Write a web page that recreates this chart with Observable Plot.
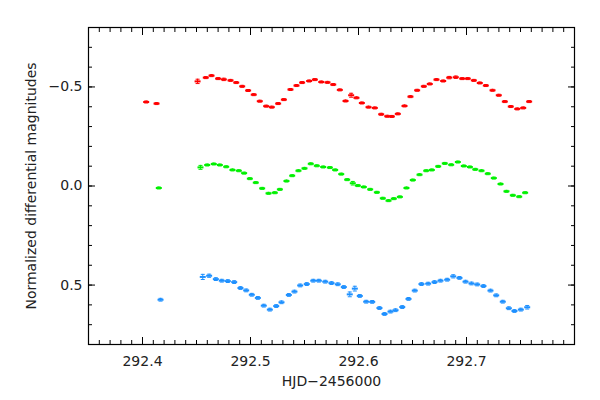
<!DOCTYPE html>
<html>
<head>
<meta charset="utf-8">
<script src="https://cdn.jsdelivr.net/npm/d3@7"></script>
<script src="https://cdn.jsdelivr.net/npm/@observablehq/plot@0.6"></script>
<style>
  html, body { margin: 0; padding: 0; background: #fff; }
</style>
</head>
<body>
<div id="chart"></div>
<script>
// ---- Data (HJD-2456000, normalized differential magnitude, error) ----
const redT = [292.4034,292.4130,292.4510,292.4586,292.4639,292.4700,292.4753,292.4815,292.4868,292.4923,292.4978,292.5030,292.5086,292.5145,292.5197,292.5256,292.5309,292.5370,292.5426,292.5478,292.5543,292.5596,292.5655,292.5713,292.5766,292.5827,292.5880,292.5932,292.5981,292.6031,292.6093,292.6151,292.6210,292.6266,292.6309,292.6364,292.6426,292.6481,292.6543,292.6605,292.6660,292.6722,292.6784,292.6840,292.6901,292.6960,292.7012,292.7068,292.7123,292.7179,292.7241,292.7299,292.7355,292.7410,292.7470,292.7525,292.7580];
const redM = [-0.424,-0.416,-0.528,-0.547,-0.557,-0.542,-0.538,-0.533,-0.522,-0.503,-0.482,-0.461,-0.428,-0.403,-0.398,-0.416,-0.436,-0.487,-0.507,-0.522,-0.530,-0.537,-0.525,-0.523,-0.512,-0.485,-0.429,-0.458,-0.445,-0.419,-0.398,-0.394,-0.362,-0.352,-0.351,-0.364,-0.404,-0.451,-0.483,-0.503,-0.515,-0.537,-0.530,-0.547,-0.549,-0.542,-0.542,-0.533,-0.520,-0.507,-0.483,-0.458,-0.426,-0.401,-0.389,-0.394,-0.426];
const redE = [0.005,0.005,0.011,0.005,0.005,0.005,0.006,0.005,0.005,0.005,0.005,0.005,0.005,0.005,0.005,0.005,0.005,0.005,0.005,0.005,0.005,0.005,0.005,0.005,0.005,0.005,0.005,0.010,0.005,0.005,0.005,0.005,0.005,0.005,0.005,0.005,0.005,0.005,0.005,0.005,0.005,0.005,0.005,0.006,0.006,0.005,0.005,0.005,0.005,0.005,0.005,0.005,0.005,0.005,0.005,0.005,0.005];

const greenT = [292.4151,292.4537,292.4599,292.4660,292.4716,292.4775,292.4833,292.4892,292.4941,292.4994,292.5049,292.5108,292.5167,292.5225,292.5272,292.5333,292.5386,292.5444,292.5500,292.5558,292.5614,292.5673,292.5735,292.5784,292.5840,292.5895,292.5947,292.5994,292.6049,292.6108,292.6170,292.6225,292.6278,292.6327,292.6383,292.6444,292.6503,292.6565,292.6627,292.6679,292.6738,292.6799,292.6858,292.6920,292.6975,292.7031,292.7081,292.7139,292.7197,292.7253,292.7315,292.7370,292.7429,292.7488,292.7543];
const greenM = [0.010,-0.094,-0.106,-0.111,-0.106,-0.097,-0.081,-0.077,-0.065,-0.037,-0.017,0.012,0.037,0.034,0.017,-0.025,-0.052,-0.077,-0.089,-0.112,-0.102,-0.096,-0.093,-0.081,-0.060,-0.032,-0.014,-0.002,0.005,0.017,0.032,0.062,0.074,0.064,0.055,0.010,-0.030,-0.057,-0.077,-0.081,-0.099,-0.114,-0.107,-0.121,-0.101,-0.096,-0.084,-0.077,-0.062,-0.040,-0.010,0.027,0.047,0.054,0.034];
const greenE = [0.005,0.010,0.005,0.005,0.005,0.005,0.005,0.005,0.005,0.005,0.005,0.005,0.005,0.005,0.005,0.005,0.005,0.005,0.005,0.005,0.005,0.005,0.005,0.005,0.005,0.005,0.009,0.005,0.005,0.005,0.005,0.005,0.005,0.005,0.005,0.005,0.005,0.005,0.005,0.005,0.005,0.005,0.005,0.005,0.005,0.005,0.005,0.005,0.005,0.005,0.005,0.005,0.005,0.005,0.005];

const blueT = [292.4167,292.4558,292.4617,292.4679,292.4734,292.4790,292.4849,292.4907,292.4960,292.5012,292.5068,292.5123,292.5179,292.5238,292.5287,292.5355,292.5407,292.5460,292.5521,292.5581,292.5633,292.5692,292.5750,292.5808,292.5864,292.5919,292.5966,292.6012,292.6071,292.6127,292.6194,292.6241,292.6296,292.6343,292.6405,292.6463,292.6521,292.6583,292.6645,292.6704,292.6759,292.6821,292.6877,292.6935,292.6991,292.7046,292.7099,292.7157,292.7222,292.7275,292.7336,292.7392,292.7444,292.7503,292.7562];
const blueM = [0.574,0.459,0.453,0.470,0.478,0.480,0.485,0.515,0.527,0.549,0.565,0.604,0.624,0.606,0.587,0.550,0.533,0.502,0.495,0.478,0.478,0.483,0.490,0.496,0.510,0.547,0.518,0.555,0.584,0.585,0.616,0.646,0.634,0.627,0.611,0.570,0.528,0.495,0.493,0.485,0.478,0.473,0.456,0.464,0.483,0.492,0.497,0.505,0.528,0.552,0.584,0.617,0.631,0.624,0.612];
const blueE = [0.007,0.013,0.008,0.007,0.007,0.007,0.007,0.007,0.007,0.007,0.007,0.007,0.007,0.007,0.007,0.007,0.007,0.007,0.007,0.007,0.007,0.007,0.007,0.007,0.007,0.012,0.012,0.007,0.007,0.007,0.007,0.007,0.007,0.007,0.007,0.007,0.007,0.007,0.007,0.007,0.007,0.007,0.008,0.007,0.007,0.007,0.007,0.007,0.007,0.007,0.007,0.007,0.007,0.007,0.009];

const seriesNames = ["red", "green", "blue"];
const seriesColors = ["#ff0000", "#00f000", "#1e90ff"];

const xMajor = [292.4, 292.5, 292.6, 292.7];
const yMajor = [-0.5, 0.0, 0.5];
const xLabel = "HJD\u22122456000";
const yLabel = "Normalized differential magnitudes";

// ---- Build table ----
const table = [];
[[redT, redM, redE], [greenT, greenM, greenE], [blueT, blueM, blueE]].forEach(([T, M, E], i) => {
  T.forEach((t, j) => table.push({series: seriesNames[i], t, m: M[j], e: E[j], color: seriesColors[i]}));
});

const xMinor = d3.range(29235, 29281).map(v => v / 100);
const yMinor = d3.range(-8, 9).map(v => v / 10);

const barSymbol = { draw(ctx) { ctx.rect(-3, -1, 6, 2); } };
const capSymbol = { draw(ctx) { ctx.moveTo(-2, 0); ctx.lineTo(2, 0); } };
const blank = () => "";
const fmt = d3.format(".1f");
const minusFmt = d => fmt(d).replace("-", "\u2212");

const chart = Plot.plot({
  width: 600,
  height: 400,
  marginLeft: 88,
  marginRight: 26,
  marginTop: 27,
  marginBottom: 56,
  style: { fontFamily: "'DejaVu Sans', sans-serif", fontSize: "14px", background: "white", color: "#222" },
  x: { domain: [292.35, 292.8] },
  y: { domain: [-0.8, 0.8], reverse: true },
  marks: [
    Plot.frame({ stroke: "black", strokeWidth: 1.2 }),
    // tick marks (inward, all four sides)
    Plot.axisX(xMajor, { anchor: "bottom", tickSize: -7, tickFormat: blank, label: null, stroke: "black" }),
    Plot.axisX(xMajor, { anchor: "top", tickSize: -7, tickFormat: blank, label: null, stroke: "black" }),
    Plot.axisX(xMinor, { anchor: "bottom", tickSize: -4, tickFormat: blank, label: null, stroke: "black" }),
    Plot.axisX(xMinor, { anchor: "top", tickSize: -4, tickFormat: blank, label: null, stroke: "black" }),
    Plot.axisY(yMajor, { anchor: "left", tickSize: -7, tickFormat: blank, label: null, stroke: "black" }),
    Plot.axisY(yMajor, { anchor: "right", tickSize: -7, tickFormat: blank, label: null, stroke: "black" }),
    Plot.axisY(yMinor, { anchor: "left", tickSize: -4, tickFormat: blank, label: null, stroke: "black" }),
    Plot.axisY(yMinor, { anchor: "right", tickSize: -4, tickFormat: blank, label: null, stroke: "black" }),
    // labels
    Plot.axisX(xMajor, { anchor: "bottom", tickSize: 0, tickPadding: 12, tickFormat: fmt, label: xLabel, labelAnchor: "center", labelOffset: 41, labelArrow: "none" }),
    Plot.axisY(yMajor, { anchor: "left", tickSize: 0, tickPadding: 6, tickFormat: minusFmt, label: yLabel, labelAnchor: "center", labelOffset: 62, labelArrow: "none" }),
    // error bars
    Plot.ruleX(table, { x: "t", y1: d => d.m - d.e, y2: d => d.m + d.e, stroke: "color", strokeWidth: 1 }),
    Plot.dot(table, { x: "t", y: d => d.m - d.e, symbol: capSymbol, stroke: "color", fill: "none", strokeWidth: 1 }),
    Plot.dot(table, { x: "t", y: d => d.m + d.e, symbol: capSymbol, stroke: "color", fill: "none", strokeWidth: 1 }),
    // markers
    Plot.dot(table, { x: "t", y: "m", symbol: barSymbol, fill: "color", stroke: "none" })
  ]
});
document.getElementById("chart").appendChild(chart);
</script>
</body>
</html>
